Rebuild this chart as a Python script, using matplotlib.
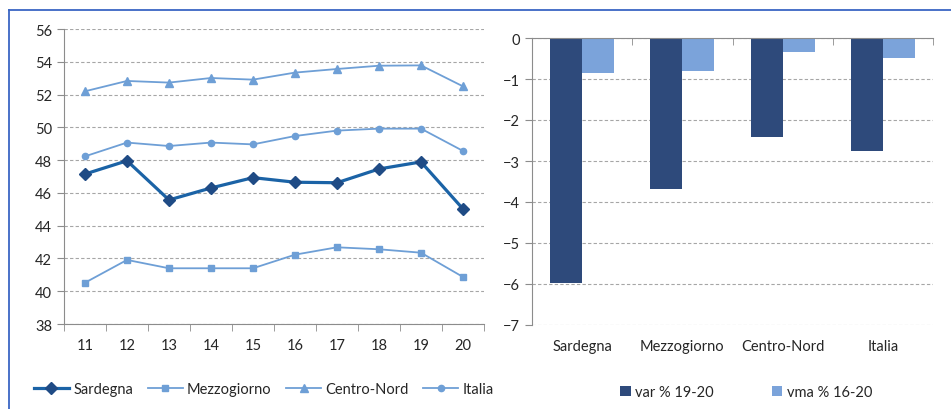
import numpy as np
import matplotlib
matplotlib.use("Agg")
import matplotlib.pyplot as plt
from matplotlib.lines import Line2D

plt.rcParams['font.family'] = ['Lato', 'DejaVu Sans']

# serie storiche (anni 2011-2020)
anni = [11, 12, 13, 14, 15, 16, 17, 18, 19, 20]
sardegna = [47.15, 47.96, 45.57, 46.3, 46.93, 46.65, 46.62, 47.46, 47.89, 45.02]
mezzogiorno = [40.52, 41.91, 41.4, 41.4, 41.4, 42.23, 42.68, 42.56, 42.35, 40.87]
centro_nord = [52.2, 52.83, 52.73, 53.01, 52.91, 53.34, 53.56, 53.76, 53.78, 52.5]
italia = [48.23, 49.07, 48.86, 49.07, 48.96, 49.47, 49.8, 49.92, 49.92, 48.56]

# variazioni
aree = ['Sardegna', 'Mezzogiorno', 'Centro-Nord', 'Italia']
var_19_20 = [-5.98, -3.68, -2.41, -2.76]
vma_16_20 = [-0.85, -0.81, -0.35, -0.48]

c_sard = '#1B63A6'
c_sard_mk = '#1F4B85'
c_light = '#6E9FD6'
c_dark_bar = '#2E4A7B'
c_light_bar = '#7BA3DA'
c_axis = '#8C8C8C'
c_text = '#262626'

fig = plt.figure(figsize=(9.51, 4.10), dpi=100)

# cornice
fig.add_artist(Line2D([9/951, 9/951], [0, 1 - 11/410], color='#3A66C4', lw=1.3))
fig.add_artist(Line2D([9/951, 1], [1 - 11/410, 1 - 11/410], color='#3A66C4', lw=1.3))

# --- grafico a linee ---
ax1 = fig.add_axes([64/951, 85/410, 420/951, 295/410])
ax1.plot(anni, centro_nord, color=c_light, lw=1.3, marker='^', ms=6, label='Centro-Nord')
ax1.plot(anni, italia, color=c_light, lw=1.3, marker='o', ms=4.5, label='Italia')
ax1.plot(anni, mezzogiorno, color=c_light, lw=1.3, marker='s', ms=5, label='Mezzogiorno')
ax1.plot(anni, sardegna, color=c_sard, lw=2.3, marker='D', ms=6,
         mfc=c_sard_mk, mec=c_sard_mk, label='Sardegna', zorder=5)
ax1.set_xlim(10.5, 20.5)
ax1.set_ylim(38, 56)
ax1.set_yticks(np.arange(38, 57, 2))
ax1.set_xticks(anni)
ax1.set_xticks(np.arange(10.5, 21, 1), minor=True)
ax1.tick_params(axis='x', which='major', length=0, pad=10)
ax1.tick_params(axis='x', which='minor', length=5, color=c_axis, direction='out')
ax1.tick_params(axis='y', length=5, color=c_axis, direction='out')
ax1.tick_params(labelsize=10.5, labelcolor=c_text)
for s in ['top', 'right']:
    ax1.spines[s].set_visible(False)
for s in ['left', 'bottom']:
    ax1.spines[s].set_color(c_axis)
ax1.yaxis.grid(True, ls=(0, (3, 2)), color='#A6A6A6', lw=0.8)
ax1.set_axisbelow(True)
h, l = ax1.get_legend_handles_labels()
ordine = [3, 2, 0, 1]
ax1.legend([h[i] for i in ordine], [l[i] for i in ordine], ncol=4, frameon=False,
           loc='center', bbox_to_anchor=(0.476, -0.22), fontsize=10.5,
           handlelength=2.4, columnspacing=1.0, handletextpad=0.3,
           labelcolor=c_text)

# --- grafico a barre ---
ax2 = fig.add_axes([532/951, 84/410, 401/951, 287/410])
x = np.arange(len(aree))
w = 0.32
ax2.bar(x - w/2, var_19_20, w, color=c_dark_bar, label='var % 19-20')
ax2.bar(x + w/2, vma_16_20, w, color=c_light_bar, label='vma % 16-20')
ax2.set_xlim(-0.5, 3.5)
ax2.set_ylim(-7, 0)
ax2.set_yticks(np.arange(-7, 1, 1))
ax2.set_xticks(x)
ax2.set_xticklabels(aree)
ax2.set_xticks(np.arange(-0.5, 4, 1), minor=True)
ax2.tick_params(axis='x', which='major', length=0, pad=10)
ax2.tick_params(axis='x', which='minor', bottom=False, top=True, length=5,
                color=c_axis, direction='in')
ax2.tick_params(axis='y', length=5, color=c_axis, direction='out')
ax2.tick_params(labelsize=10.5, labelcolor=c_text)
for s in ['right', 'bottom']:
    ax2.spines[s].set_visible(False)
for s in ['left', 'top']:
    ax2.spines[s].set_color(c_axis)
ax2.yaxis.grid(True, ls=(0, (3, 2)), color='#A6A6A6', lw=0.8)
ax2.set_axisbelow(True)
ax2.legend(ncol=2, frameon=False, loc='center', bbox_to_anchor=(0.534, -0.235),
           fontsize=10.5, handlelength=0.7, handleheight=0.7,
           columnspacing=4.0, handletextpad=0.3, labelcolor=c_text)

fig.savefig('out.png', dpi=100)
